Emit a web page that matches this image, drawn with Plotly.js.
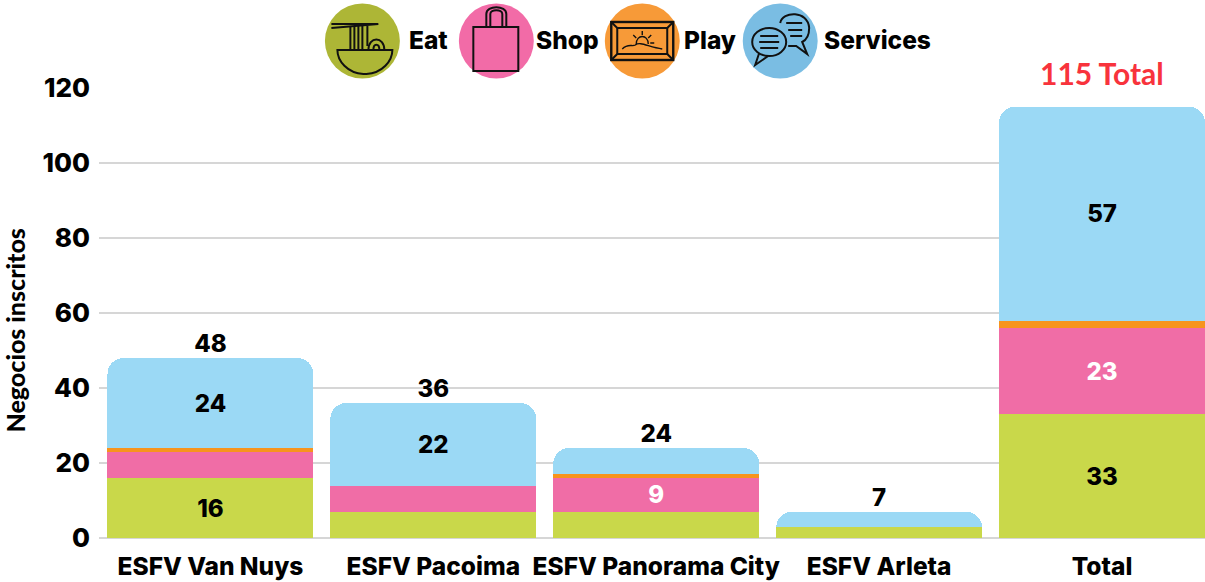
<!DOCTYPE html>
<html><head><meta charset="utf-8">
<script src="https://cdn.plot.ly/plotly-3.0.1.min.js"></script>
<style>html,body{margin:0;padding:0;background:#fff;overflow:hidden}#c{width:1205px;height:582px}</style>
</head><body><div id="c"></div>
<script>
const categories = ['ESFV Van Nuys','ESFV Pacoima','ESFV Panorama City','ESFV Arleta','Total'];
const eat      = [16,7,7,3,33];
const shop     = [7,7,9,0,23];
const play     = [1,0,1,0,2];
const services = [24,22,7,4,57];
const totals   = [48,36,24,7];
const eatLabels      = ['16','','','','33'];
const shopLabels     = ['','','9','','23'];
const servicesLabels = ['24','22','','','57'];
const yTicks = [0,20,40,60,80,100,120];
const grandTotalLabel = '115 Total';
const grandTotal = 115;
const yTitle = 'Negocios inscritos';

const FONT = 'Inter, "Noto Sans", sans-serif';
const W=1205,H=582,L=98.5,T=88,B=44;
const labelFont = (c,size) => ({family:FONT,size:size||24,color:c,weight:800});

function bar(name,y,color,text,textColor){
  return {type:'bar',name,x:categories,y,marker:{color,line:{width:0}},
    text:text||undefined,textposition:text?'inside':'none',insidetextanchor:'middle',
    textangle:0,constraintext:'none',insidetextfont:labelFont(textColor||'#000'),hoverinfo:'x+y+name'};
}
const traces=[
  bar('Eat',eat,'#c9d84a',eatLabels),
  bar('Shop',shop,'#f06da6',shopLabels,'#fff'),
  bar('Play',play,'#f7941d'),
  bar('Services',services,'#9bd9f5',servicesLabels),
  {type:'scatter',mode:'text',x:categories.slice(0,4),y:totals,text:totals.map(String),
   textposition:'top center',textfont:labelFont('#000'),hoverinfo:'skip',showlegend:false}
];

// legend icons
const s='fill="none" stroke="#111" stroke-width="2"';
const icon=(bg,inner)=>'data:image/svg+xml;charset=utf-8,'+encodeURIComponent(
 `<svg xmlns="http://www.w3.org/2000/svg" width="76" height="76" viewBox="0 0 76 76"><circle cx="38" cy="38" r="37.5" fill="${bg}"/>${inner}</svg>`);
const icons=[
 {x:324,src:icon('#adb636',`<g ${s}><path d="M7 25 L54 21 M7 21 L53 21"/><path d="M26 23V47M30 23V47M34 23V47M38 23V47M43 23V43"/><path d="M13 47H68C68 58 58 70 42 71H39C23 70 13 58 13 47Z"/><path d="M44 47C44 33 60 33 60 47M49 47C49 40 55 40 55 47"/></g>`)},
 {x:458,src:icon('#f26ba7',`<g ${s}><path d="M15 24H60V68H15Z"/><path d="M28 24V11C28 2 48 2 48 11V24M32 24V11C32 6 44 6 44 11V24"/></g>`)},
 {x:604,src:icon('#f79a38',`<g ${s}><rect x="7" y="19" width="62" height="38" stroke-width="2.4"/><rect x="13" y="25" width="50" height="26"/><path d="M7 19L13 25M69 19L63 25M7 57L13 51M69 57L63 51"/><path d="M18 46C24 40 28 44 31 42C36 38 44 44 58 46" stroke-width="1.4"/><path d="M32 41C32 31 44 31 44 41M38 28V32M29 32L32 35M47 32L44 35M50 40H46" stroke-width="1.4"/></g>`)},
 {x:742,src:icon('#7abde3',`<g ${s}><path d="M38 20C40 8 66 7 67 25C67 35 62 38 60 39L65 51L54 43H46" /><path d="M44 20H60M46 27H60M48 33H60"/><ellipse cx="27" cy="39" rx="17" ry="14" fill="#7abde3"/><path d="M17 50L13 62L26 53"/><path d="M18 33H36M17 39H37M18 45H36"/></g>`)}
];
const px=x=>(x-L)/(W-L), py=y=>1-(y-T)/(H-T-B);
const images=icons.map(i=>({source:i.src,xref:'paper',yref:'paper',x:px(i.x),y:py(3),
  sizex:76/(W-L),sizey:76/(H-T-B),xanchor:'left',yanchor:'top',sizing:'stretch',layer:'above'}));
const legendText=[['Eat',408],['Shop',535],['Play',683],['Services',823]].map(([t,x])=>({
  text:t,xref:'paper',yref:'paper',x:px(x),y:py(40),xanchor:'left',yanchor:'middle',showarrow:false,
  font:labelFont('#000',24.5),borderpad:0}));

const layout={
  width:W,height:H,barmode:'stack',bargap:0.076,barcornerradius:16,showlegend:false,
  margin:{l:L,r:0,t:T,b:B,pad:0},paper_bgcolor:'#fff',plot_bgcolor:'#fff',
  font:{family:FONT},
  xaxis:{type:'category',categoryorder:'array',categoryarray:categories,range:[-0.5,4.462],
    tickfont:labelFont('#000',24.5),showgrid:false,ticks:'',showline:false,zeroline:false,ticklabelstandoff:11},
  yaxis:{range:[0,120],tickvals:yTicks,tickfont:labelFont('#000',26),gridcolor:'#d6d6d6',gridwidth:1.5,
    zeroline:true,zerolinecolor:'#d6d6d6',zerolinewidth:1.5,ticks:'',showline:false,ticklabelstandoff:8},
  images,
  annotations:[...legendText,
   {x:px(14),y:py(331),xref:'paper',yref:'paper',xanchor:'center',yanchor:'middle',textangle:-90,showarrow:false,
    text:yTitle,font:{family:'Lato, sans-serif',size:25,color:'#000',weight:900}},
   {x:4,y:grandTotal,xref:'x',yref:'y',yanchor:'bottom',yshift:1,showarrow:false,
    text:grandTotalLabel,font:{family:'Lato, sans-serif',size:30,color:'#f8333c',weight:700},
    bgcolor:'#fff',borderpad:14}]
};
Plotly.newPlot('c',traces,layout,{displayModeBar:false});
</script></body></html>
